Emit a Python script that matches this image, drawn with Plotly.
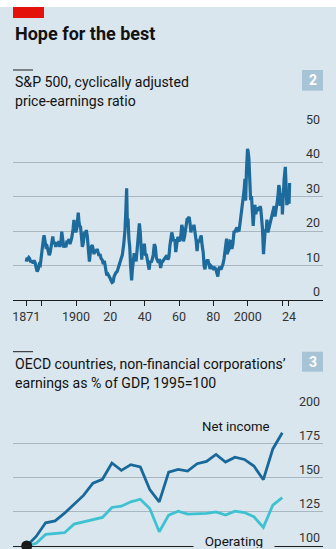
import plotly.graph_objects as go

# ---- data -------------------------------------------------------------
# S&P 500 cyclically adjusted price-earnings ratio (CAPE)
cape_years = [
    1871.0, 1871.5, 1872.0, 1872.5, 1873.0, 1873.7, 1874.3, 1875.0, 1875.6, 1876.2,
    1876.8, 1877.4, 1878.0, 1878.6, 1879.2, 1879.8, 1880.4, 1881.0, 1881.4, 1881.9,
    1882.5, 1883.1, 1883.7, 1884.4, 1884.9, 1885.5, 1886.1, 1886.5, 1887.0, 1887.6,
    1888.2, 1888.8, 1889.4, 1890.0, 1890.6, 1891.2, 1891.7, 1892.2, 1892.9, 1893.5,
    1894.1, 1894.7, 1895.3, 1895.9, 1896.5, 1897.1, 1897.6, 1898.3, 1898.8, 1899.3,
    1899.9, 1900.5, 1901.0, 1901.3, 1901.7, 1902.1, 1902.6, 1903.1, 1903.7, 1904.3,
    1905.0, 1905.5, 1906.0, 1906.6, 1907.2, 1907.8, 1908.3, 1908.9, 1909.5, 1910.0,
    1910.5, 1911.1, 1911.7, 1912.3, 1912.9, 1913.4, 1914.0, 1914.6, 1915.3, 1915.9,
    1916.5, 1917.1, 1917.9, 1918.6, 1919.2, 1919.8, 1920.4, 1921.0, 1921.6, 1922.2,
    1923.2, 1924.0, 1925.0, 1926.0, 1927.0, 1927.8, 1928.5, 1929.0, 1929.5, 1929.9,
    1930.3, 1930.8, 1931.3, 1931.8, 1932.4, 1932.8, 1933.3, 1933.9, 1934.4, 1935.0,
    1935.6, 1936.2, 1936.9, 1937.4, 1937.9, 1938.3, 1938.8, 1939.3, 1939.8, 1940.4,
    1940.9, 1941.5, 1942.2, 1942.6, 1943.2, 1943.8, 1944.4, 1945.0, 1945.6, 1946.2,
    1946.8, 1947.4, 1948.0, 1948.6, 1949.3, 1949.9, 1950.5, 1951.1, 1951.7, 1952.3,
    1952.9, 1953.5, 1954.1, 1954.7, 1955.3, 1955.8, 1956.4, 1957.0, 1957.6, 1958.1,
    1958.7, 1959.3, 1959.9, 1960.5, 1961.1, 1961.6, 1962.2, 1962.6, 1963.3, 1964.0,
    1964.7, 1965.3, 1965.9, 1966.5, 1966.9, 1967.5, 1968.1, 1968.7, 1969.3, 1970.0,
    1970.5, 1971.1, 1971.7, 1972.3, 1972.9, 1973.5, 1974.1, 1974.6, 1975.1, 1975.6,
    1976.3, 1976.9, 1977.5, 1978.1, 1978.7, 1979.3, 1979.9, 1980.5, 1981.0, 1981.6,
    1982.2, 1982.6, 1983.2, 1983.8, 1984.4, 1985.0, 1985.6, 1986.2, 1986.8, 1987.3,
    1987.7, 1987.9, 1988.5, 1989.1, 1989.7, 1990.3, 1990.8, 1991.4, 1992.0, 1992.6,
    1993.2, 1993.8, 1994.4, 1995.0, 1995.6, 1996.2, 1996.8, 1997.4, 1997.9, 1998.4,
    1998.8, 1999.3, 1999.9, 2000.2, 2000.7, 2001.2, 2001.7, 2002.2, 2002.7, 2003.2,
    2003.7, 2004.2, 2004.7, 2005.2, 2005.7, 2006.2, 2006.7, 2007.2, 2007.6, 2008.1,
    2008.6, 2009.2, 2009.6, 2010.2, 2010.7, 2011.2, 2011.8, 2012.4, 2013.0, 2013.6,
    2014.2, 2014.8, 2015.4, 2015.9, 2016.5, 2017.1, 2017.6, 2018.1, 2018.6, 2018.95,
    2019.4, 2019.9, 2020.2, 2020.7, 2021.2, 2021.9, 2022.4, 2022.8, 2023.3, 2023.8,
    2024.1, 2024.4,
]
cape_values = [
    11.1, 12.2, 11.9, 12.3, 12.0, 10.9, 11.4, 10.6, 11.5, 10.8,
    9.4, 8.2, 8.9, 10.3, 10.1, 13.3, 15.2, 17.6, 18.8, 16.2,
    15.4, 15.6, 14.3, 13.0, 13.6, 15.8, 17.4, 18.4, 16.2, 16.9,
    15.4, 16.7, 15.6, 17.1, 15.4, 16.6, 19.8, 17.8, 15.2, 16.0,
    15.3, 17.2, 16.6, 17.7, 16.2, 17.2, 18.2, 20.6, 23.2, 21.1,
    19.6, 20.8, 23.6, 25.3, 23.0, 21.3, 21.5, 18.6, 15.4, 16.7,
    19.8, 19.0, 20.3, 18.4, 14.8, 11.1, 13.5, 15.5, 15.9, 14.3,
    13.3, 14.6, 13.9, 14.8, 13.9, 12.8, 13.3, 12.0, 11.6, 10.4,
    11.4, 9.4, 7.2, 7.5, 7.1, 6.4, 5.6, 5.1, 5.3, 6.8,
    7.9, 8.3, 9.9, 11.6, 13.1, 16.2, 20.0, 25.6, 32.4, 22.5,
    23.6, 17.8, 15.4, 9.9, 5.7, 8.6, 11.7, 13.6, 12.4, 11.2,
    14.6, 18.4, 22.2, 19.8, 13.1, 11.7, 15.8, 14.4, 16.3, 12.9,
    13.4, 11.5, 9.2, 8.8, 11.3, 10.9, 11.8, 13.2, 16.2, 15.4,
    12.2, 11.5, 10.8, 11.9, 9.3, 10.8, 11.2, 11.8, 12.3, 12.6,
    12.9, 11.7, 12.4, 15.8, 17.6, 19.6, 18.2, 17.0, 17.6, 13.9,
    16.2, 18.3, 17.4, 17.1, 18.9, 21.8, 20.5, 17.0, 18.6, 21.6,
    23.4, 23.6, 24.1, 21.9, 19.6, 21.3, 20.6, 21.8, 19.9, 17.1,
    14.2, 17.4, 16.8, 18.2, 18.7, 15.7, 13.8, 9.9, 8.9, 10.8,
    11.4, 11.4, 10.2, 9.0, 9.8, 9.3, 9.1, 9.4, 9.3, 8.6,
    7.6, 6.8, 9.1, 9.6, 8.8, 9.6, 10.4, 11.9, 13.9, 15.2,
    17.8, 13.3, 13.9, 14.7, 17.1, 17.0, 14.8, 16.4, 19.7, 19.8,
    20.5, 21.0, 20.1, 20.2, 22.5, 24.8, 26.0, 28.9, 31.8, 35.1,
    28.8, 37.8, 43.8, 43.2, 41.0, 34.0, 28.9, 30.1, 22.5, 21.5,
    25.4, 27.6, 24.9, 26.3, 26.2, 26.8, 25.9, 27.2, 26.5, 24.0,
    20.7, 13.3, 17.3, 20.5, 19.5, 23.3, 19.6, 21.0, 21.9, 23.6,
    24.9, 26.0, 27.2, 24.2, 25.6, 28.1, 30.0, 33.3, 32.2, 27.3,
    29.8, 31.0, 24.8, 30.9, 35.0, 38.6, 29.8, 27.5, 29.5, 29.3,
    27.9, 33.9,
]
cape_ticks = [1871, 1880, 1900, 1920, 1940, 1960, 1980, 2000, 2020, 2024]
cape_tick_text = ["1871", "", "1900", "20", "40", "60", "80", "2000", "", "24"]
cape_y_ticks = [0, 10, 20, 30, 40, 50]

# OECD non-financial corporations' earnings as % of GDP, 1995=100
oecd_years = list(range(1995, 2023))
net_income = [
    100, 107, 117, 118.4, 124, 130.5, 137, 146, 148.8, 160.7,
    155.3, 159.5, 157.8, 141.3, 132.3, 154, 156, 154.8, 160.2, 161.9,
    167, 161.4, 165, 163.3, 158.5, 148.5, 171, 182.8,
]
operating = [
    100, 102, 108.5, 109.2, 109.7, 116, 117.7, 119.7, 120.9, 128.2,
    129.1, 132.3, 134.2, 127.4, 110.4, 122.6, 125.5, 123.3, 123.8, 123.8,
    125, 122.6, 125.5, 124.5, 121.4, 113.6, 129.9, 135.4,
]
oecd_y_ticks = [100, 125, 150, 175, 200]

# ---- styling ----------------------------------------------------------
W, H = 336, 549
BG = "#d9e6ee"
GRID = "#a8b7c1"
AXIS = "#1e1e1e"
TEXT = "#121212"
TICK = "#333333"
BLUE = "#1d6b9c"
NAVY = "#18689a"
CYAN = "#3ec1d0"
BOX = "#a7c4d7"
FONT = "Roboto"


def fx(p):
    return p / W


def fy(p):
    return 1 - p / H


fig = go.Figure()

fig.add_trace(go.Scatter(
    x=cape_years, y=cape_values, mode="lines",
    line=dict(color=BLUE, width=3.2), xaxis="x", yaxis="y",
    hoverinfo="skip", showlegend=False,
))
fig.add_trace(go.Scatter(
    x=oecd_years, y=operating, mode="lines",
    line=dict(color=CYAN, width=2.8), xaxis="x2", yaxis="y2",
    hoverinfo="skip", showlegend=False,
))
fig.add_trace(go.Scatter(
    x=oecd_years, y=net_income, mode="lines",
    line=dict(color=NAVY, width=2.8), xaxis="x2", yaxis="y2",
    hoverinfo="skip", showlegend=False,
))
fig.add_trace(go.Scatter(
    x=[oecd_years[0]], y=[net_income[0]], mode="markers",
    marker=dict(color="#1a1a1a", size=11), xaxis="x2", yaxis="y2",
    cliponaxis=False, hoverinfo="skip", showlegend=False,
))

tickfont = dict(family=FONT, size=12.5, color=TICK)
yaxis_common = dict(
    side="right", ticklabelposition="inside", ticklabelshift=-8,
    ticklabelstandoff=0, ticklabeloverflow="allow", automargin=False,
    showgrid=True, gridcolor=GRID, gridwidth=1, zeroline=False,
    showline=False, ticks="", tickfont=tickfont, fixedrange=True,
)

fig.update_layout(
    width=W, height=H, autosize=False,
    margin=dict(l=0, r=0, t=0, b=0, pad=0, autoexpand=False),
    paper_bgcolor=BG, plot_bgcolor=BG,
    xaxis=dict(
        domain=[fx(13), fx(323)], range=[1863.31, 2043.85],
        tickvals=cape_ticks, ticktext=cape_tick_text,
        ticks="outside", ticklen=5, tickwidth=1, tickcolor=AXIS,
        showline=True, linecolor=AXIS, linewidth=1,
        showgrid=False, zeroline=False, tickfont=tickfont,
        anchor="y", fixedrange=True, automargin=False,
    ),
    yaxis=dict(
        domain=[fy(300), fy(127.5)], range=[0, 50],
        tickvals=cape_y_ticks, anchor="x", **yaxis_common,
    ),
    xaxis2=dict(
        domain=[fx(13), fx(323)], range=[1993.553, 2026.30],
        showline=True, linecolor=AXIS, linewidth=1,
        showticklabels=False, ticks="", showgrid=False, zeroline=False,
        anchor="y2", fixedrange=True, automargin=False,
    ),
    yaxis2=dict(
        domain=[fy(546), fy(409.3)], range=[100, 200],
        tickvals=oecd_y_ticks, anchor="x2", **yaxis_common,
    ),
)

shapes = [
    # white strip and red tag at the top
    dict(type="rect", xref="paper", yref="paper", x0=0, x1=1, y0=fy(7), y1=1,
         fillcolor="white", line_width=0, layer="above"),
    dict(type="rect", xref="paper", yref="paper", x0=fx(13), x1=fx(44),
         y0=fy(18), y1=fy(7), fillcolor="#e3120b", line_width=0),
    # short rules above each chart title
    dict(type="line", xref="paper", yref="paper", x0=fx(13), x1=fx(33),
         y0=fy(70), y1=fy(70), line=dict(color=AXIS, width=1)),
    dict(type="line", xref="paper", yref="paper", x0=fx(13), x1=fx(33),
         y0=fy(351.7), y1=fy(351.7), line=dict(color=AXIS, width=1)),
    # chart number boxes
    dict(type="rect", xref="paper", yref="paper", x0=fx(302), x1=fx(323),
         y0=fy(90.7), y1=fy(70), fillcolor=BOX, line_width=0),
    dict(type="rect", xref="paper", yref="paper", x0=fx(302), x1=fx(323),
         y0=fy(371.7), y1=fy(351.7), fillcolor=BOX, line_width=0),
]
fig.update_layout(shapes=shapes)

ann = [
    dict(text="<b>Hope for the best</b>", x=fx(12.5), y=fy(33.5),
         font=dict(family=FONT, size=18, color=TEXT)),
    dict(text="S&P 500, cyclically adjusted", x=fx(12.5), y=fy(82),
         font=dict(family=FONT, size=14.1, color=TEXT)),
    dict(text="price-earnings ratio", x=fx(12.5), y=fy(101.4),
         font=dict(family=FONT, size=14.1, color=TEXT)),
    dict(text="OECD countries, non-financial corporations’", x=fx(12.5), y=fy(364),
         font=dict(family=FONT, size=14.1, color=TEXT)),
    dict(text="earnings as % of GDP, 1995=100", x=fx(12.5), y=fy(383),
         font=dict(family=FONT, size=14.1, color=TEXT)),
    dict(text="<b>2</b>", x=fx(312.7), y=fy(80.4), xanchor="center",
         font=dict(family=FONT, size=14, color="white")),
    dict(text="<b>3</b>", x=fx(312.7), y=fy(361.7), xanchor="center",
         font=dict(family=FONT, size=14, color="white")),
    dict(text="Net income", x=fx(236), y=fy(426), xanchor="center",
         font=dict(family=FONT, size=13.2, color=TEXT)),
    dict(text="Operating", x=fx(233.5), y=fy(540.5), xanchor="center",
         width=80, height=14, bgcolor=BG, borderpad=0,
         font=dict(family=FONT, size=13.5, color=TEXT)),
]
for a in ann:
    a.setdefault("xanchor", "left")
    a.update(xref="paper", yref="paper", yanchor="middle", showarrow=False)
fig.update_layout(annotations=ann)

fig.write_html("out.html", config={"displayModeBar": False, "staticPlot": True})
